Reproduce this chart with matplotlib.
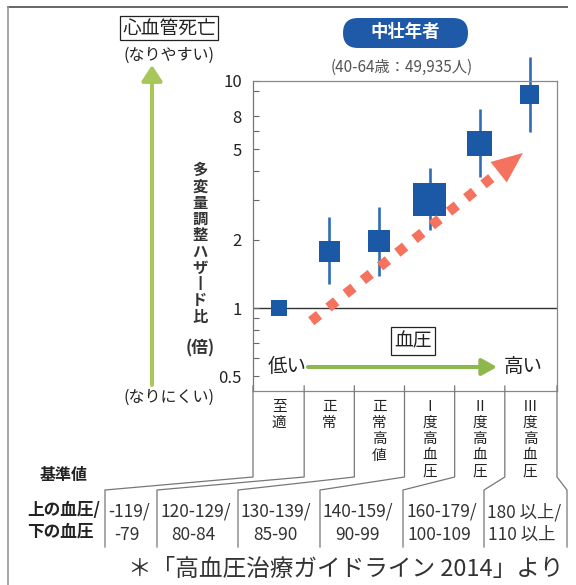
import matplotlib
matplotlib.use('Agg')
import matplotlib.pyplot as plt
from matplotlib.transforms import Affine2D
from matplotlib.patches import FancyArrowPatch, FancyBboxPatch
from matplotlib.lines import Line2D
from matplotlib.ticker import NullFormatter
import numpy as np

plt.rcParams['font.family'] = ['Noto Sans CJK JP', 'DejaVu Sans']

# ---------------- data ----------------
categories = ['至適', '正常', '正常高値', 'Ⅰ度高血圧', 'Ⅱ度高血圧', 'Ⅲ度高血圧']
hazard_ratio = [1.0, 1.78, 1.97, 3.02, 5.33, 8.75]
ci_low = [1.0, 1.28, 1.38, 2.20, 3.78, 5.96]
ci_high = [1.0, 2.52, 2.79, 4.14, 7.53, 12.8]
sbp_labels = ['-119/', '120-129/', '130-139/', '140-159/', '160-179/', '180 以上/']
dbp_labels = ['-79', '80-84', '85-90', '90-99', '100-109', '110 以上']
ytick_values = [0.5, 1, 2, 5, 7, 10]
ytick_labels = ['0.5', '1', '2', '5', '8', '10']
yminor_values = [0.6, 0.7, 0.8, 0.9, 3, 4, 6, 9]
marker_px = [16, 21, 22, 33, 25, 19]
ylabel_text = '多変量調整ハザ丨ド比'
title_text = '中壮年者'
subtitle_text = '(40-64歳：49,935人)'

BLUE = '#1b58a6'
EBLUE = '#2f6cb4'
SALMON = '#f4725e'
GREEN_V = '#a8c65a'
GREEN_H = '#8cb84c'
TXT = '#222222'

W, H = 576, 585
fig = plt.figure(figsize=(W / 100, H / 100), dpi=100)
px = Affine2D().scale(1 / W, -1 / H).translate(0, 1) + fig.transFigure


def ftext(x, y, s, **kw):
    kw.setdefault('color', TXT)
    return fig.text(x, y, s, transform=px, **kw)


def fline(xs, ys, **kw):
    kw.setdefault('color', '#777777')
    kw.setdefault('lw', 0.9)
    ln = Line2D(xs, ys, transform=px, **kw)
    fig.add_artist(ln)
    return ln


# ---------------- axes ----------------
AX_L, AX_R, AX_T, AX_B = 253, 557, 80.7, 391
ax = fig.add_axes([AX_L / W, 1 - AX_B / H, (AX_R - AX_L) / W, (AX_B - AX_T) / H])
ax.set_yscale('log')
ax.set_xlim(-0.52, 5.54)
ax.set_ylim(0.431, 10.03)

x = np.arange(len(categories))
hr = np.array(hazard_ratio)
yerr = [hr - np.array(ci_low), np.array(ci_high) - hr]

ax.axhline(1, color='#333333', lw=1.0, zorder=1)
eb = ax.errorbar(x[1:], hr[1:], yerr=[yerr[0][1:], yerr[1][1:]], fmt='none',
                 ecolor=EBLUE, elinewidth=1.9, capsize=0, zorder=2)
for coll in eb.lines[2]:
    coll.set_clip_on(False)
ax.scatter(x, hr, s=(np.array(marker_px) * 0.72) ** 2, marker='s', color=BLUE,
           linewidths=0, zorder=3, clip_on=False)

ax.set_yticks(ytick_values, ytick_labels)
ax.set_yticks(yminor_values, minor=True)
ax.yaxis.set_minor_formatter(NullFormatter())
ax.tick_params(axis='y', which='both', direction='in', length=4, width=0.8,
               color='#666666', labelsize=12, pad=8, labelcolor=TXT)
ax.set_xticks(x, ['\n'.join(c) for c in categories])
ax.tick_params(axis='x', length=0, pad=6.5, labelsize=10.5, labelcolor=TXT)
for lab in ax.get_xticklabels():
    lab.set_linespacing(1.2)

ax.spines['left'].set_color('#777777')
ax.spines['left'].set_linewidth(0.9)
for s in ['top', 'right', 'bottom']:
    ax.spines[s].set_color('#888888')
    ax.spines[s].set_linewidth(0.9)
    ax.spines[s].set_linestyle((0, (2, 1)))

# ---------------- trend arrow ----------------
arrow_start = (0.64, 0.875)
arrow_tip = (4.86, 4.82)
p0 = ax.transData.transform(arrow_start)
p1 = ax.transData.transform(arrow_tip)
u = (p1 - p0) / np.hypot(*(p1 - p0))
pb = p1 - u * 31
base = ax.transData.inverted().transform(pb)
ax.plot([arrow_start[0], base[0]], [arrow_start[1], base[1]], color=SALMON,
        lw=7.2, ls=(0, (1, 1.2)), dash_capstyle='butt', zorder=4, clip_on=False)
ax.annotate('', xy=arrow_tip, xytext=arrow_start,
            arrowprops=dict(arrowstyle='-|>,head_length=2.23,head_width=0.94',
                            mutation_scale=10, color=SALMON, lw=0,
                            shrinkA=0, shrinkB=0), zorder=5)

# ---------------- texts on the plot ----------------
ftext(413, 341, '血圧', fontsize=13.5, ha='center', va='center',
      bbox=dict(boxstyle='square,pad=0.18', fc='white', ec='#222222', lw=0.9))
ftext(287, 367, '低い', fontsize=14, ha='center', va='center')
ftext(523, 367, '高い', fontsize=14, ha='center', va='center')
fig.add_artist(FancyArrowPatch((308, 367), (497, 367), transform=px,
                               arrowstyle='-|>,head_length=0.9,head_width=0.5',
                               mutation_scale=10, lw=2.9, color=GREEN_H,
                               shrinkA=0, shrinkB=0))

# title pill
fig.add_artist(FancyBboxPatch((343, 18), 125, 30, boxstyle='round,pad=0,rounding_size=15',
                              transform=px, fc='#1f5aa8', ec='none'))
ftext(405, 32, title_text, fontsize=12.5, fontweight='bold', color='white',
      ha='center', va='center')
ftext(402, 67, subtitle_text, fontsize=11, color='#555555', ha='center', va='center')

# left side
ftext(169, 28, '心血管死亡', fontsize=13.5, ha='center', va='center',
      bbox=dict(boxstyle='square,pad=0.1', fc='white', ec='#222222', lw=0.9))
ftext(169, 55, '(なりやすい)', fontsize=11.5, ha='center', va='center')
ftext(169, 397, '(なりにくい)', fontsize=11.5, ha='center', va='center')
fig.add_artist(FancyArrowPatch((152, 385), (152, 65), transform=px,
                               arrowstyle='-|>,head_length=0.95,head_width=0.62',
                               mutation_scale=10, lw=2.9, color=GREEN_V,
                               shrinkA=0, shrinkB=0))
for i, ch in enumerate(ylabel_text):
    ftext(200, 170 + i * 16.3, ch, fontsize=11, fontweight='bold', color='#333333',
          ha='center', va='center')
ftext(200, 348, '(倍)', fontsize=12, fontweight='bold', color='#333333',
      ha='center', va='center')

# ---------------- category separators & table ----------------
inv = fig.transFigure.inverted()


def data_x_px(xv):
    d = ax.transData.transform((xv, 1.0))
    return inv.transform(d)[0] * W


bounds_data = [ax.get_xlim()[0]] + [i + 0.5 for i in range(len(categories) - 1)] + [ax.get_xlim()[1]]
table_cols = [105, 157, 238, 320, 403, 484, 567]
for bd, tc in zip(bounds_data, table_cols):
    bx = data_x_px(bd)
    fline([bx, bx, tc, tc], [386, 477, 490, 547])

for i, (s1, s2) in enumerate(zip(sbp_labels, dbp_labels)):
    l, r = table_cols[i], table_cols[i + 1]
    ftext(l + 3, 512, s1, fontsize=12.5, ha='left', va='center', color='#333333')
    ftext((l + r) / 2 - 4, 535, s2, fontsize=12.5, ha='center', va='center', color='#333333')

ftext(64, 475, '基準値', fontsize=11.5, fontweight='bold', ha='center', va='center')
ftext(27, 510, '上の血圧/', fontsize=12, fontweight='bold', ha='left', va='center')
ftext(27, 532, '下の血圧', fontsize=12, fontweight='bold', ha='left', va='center')

ftext(128, 570, '＊「高血圧治療ガイドライン 2014」より', fontsize=17, ha='left',
      va='center', color='#333333')

# outer frame
fline([8, 567], [7, 7], color='#666666', lw=1.4)
fline([8, 8], [7, 585], color='#999999', lw=1.2)

fig.savefig('out.png', dpi=100)
